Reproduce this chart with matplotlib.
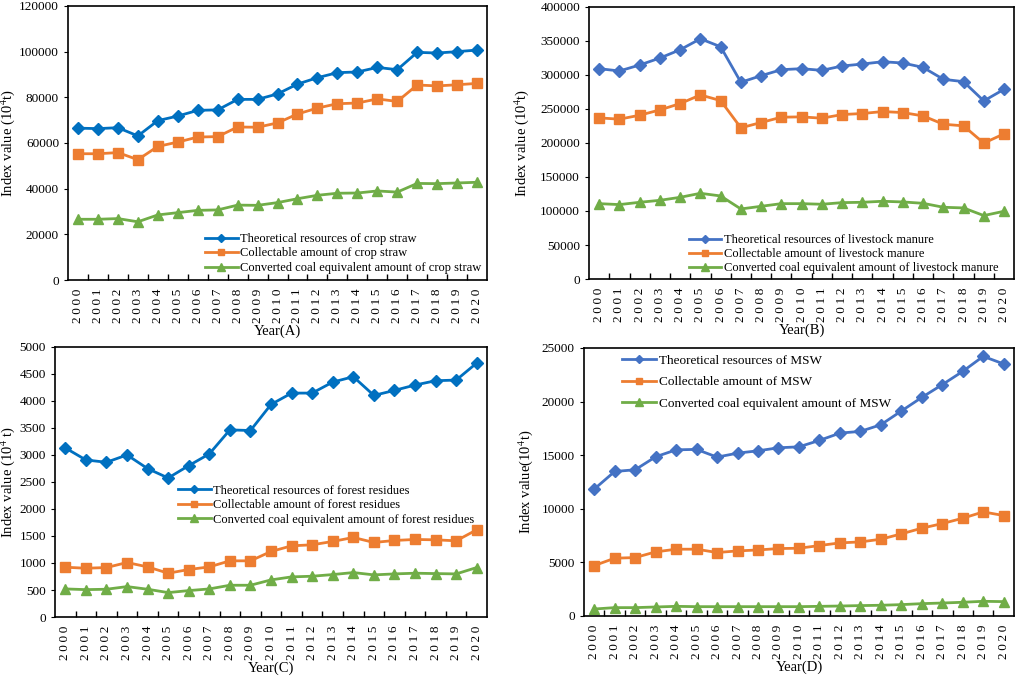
import matplotlib
import matplotlib.pyplot as plt

matplotlib.use("Agg")

plt.rcParams["font.family"] = ["Liberation Serif", "DejaVu Serif"]
plt.rcParams["mathtext.fontset"] = "stix"

years = list(range(2000, 2021))

# (A) crop straw
straw_theory = [66500, 66300, 66700, 63100, 69800, 71800, 74300, 74500, 79100, 79100, 81500,
                85800, 88600, 90800, 91100, 93100, 92100, 99700, 99400, 100000, 100700]
straw_collect = [55300, 55300, 55800, 52700, 58500, 60400, 62600, 62800, 67000, 66900, 68800,
                 72700, 75300, 77200, 77500, 79300, 78200, 85400, 85000, 85500, 86100]
straw_coal = [26600, 26600, 26900, 25500, 28500, 29500, 30500, 30700, 32800, 32700, 33900,
              35600, 37100, 38000, 38100, 39000, 38500, 42300, 42200, 42500, 42800]

# (B) livestock manure
manure_theory = [309100, 305700, 314500, 324700, 336900, 353000, 341300, 289100, 298800, 307600, 309100,
                 306600, 313000, 315900, 319300, 317400, 311000, 293500, 290000, 261700, 278800]
manure_collect = [236800, 234900, 240700, 248500, 257800, 270500, 262200, 222200, 230000, 237800, 238300,
                  236300, 241700, 243200, 246100, 244600, 239700, 227500, 225100, 199700, 213400]
manure_coal = [110800, 109400, 112800, 115700, 120100, 126000, 122100, 103000, 106900, 110800, 110800,
               109900, 112300, 112800, 114300, 113300, 111300, 105500, 104500, 93300, 99600]

# (C) forest residues
forest_theory = [3131, 2908, 2865, 3001, 2748, 2574, 2803, 3020, 3465, 3453, 3936,
                 4146, 4146, 4350, 4449, 4103, 4196, 4295, 4375, 4387, 4703]
forest_collect = [922, 903, 916, 1009, 928, 811, 879, 928, 1040, 1040, 1213,
                  1318, 1337, 1399, 1473, 1380, 1417, 1436, 1429, 1411, 1615]
forest_coal = [520, 507, 514, 563, 514, 452, 489, 520, 588, 588, 687,
               743, 755, 786, 823, 780, 798, 811, 804, 798, 916]

# (D) MSW
msw_theory = [11830, 13480, 13640, 14850, 15500, 15540, 14820, 15190, 15410, 15690, 15780,
              16380, 17060, 17220, 17840, 19120, 20390, 21580, 22820, 24220, 23510]
msw_collect = [4700, 5390, 5450, 5980, 6230, 6230, 5920, 6070, 6160, 6290, 6320,
               6570, 6820, 6910, 7160, 7660, 8190, 8620, 9120, 9710, 9370]
msw_coal = [650, 780, 780, 840, 900, 870, 870, 870, 870, 870, 870,
            900, 930, 970, 1000, 1060, 1150, 1210, 1280, 1370, 1340]

ORANGE = "#ED7D31"
GREEN = "#70AD47"

fig = plt.figure(figsize=(10.17, 6.79), dpi=100)


def draw_panel(rect, series, labels, blue, ymax, ystep, ylabel, ylabel_x, xlabel,
               leg_anchor, leg_size, leg_spacing):
    ax = fig.add_axes(rect)
    x = [i + 0.5 for i in range(len(years))]
    styles = [(blue, "D", 6.5), (ORANGE, "s", 7), (GREEN, "^", 7.5)]
    for vals, lab, (c, m, ms) in zip(series, labels, styles):
        ax.plot(x, vals, color=c, marker=m, markersize=ms, linewidth=2, label=lab)
    ax.set_xlim(0, len(years))
    ax.set_ylim(0, ymax)
    ax.set_yticks(range(0, ymax + 1, ystep))
    ax.set_xticks(range(1, len(years)))
    ax.set_xticklabels([])
    ax.set_xticks(x, minor=True)
    ax.set_xticklabels(["\u2009".join(str(y)) for y in years], minor=True, rotation=90, fontsize=9.5)
    ax.tick_params(axis="x", which="major", direction="in", length=4, width=1)
    ax.tick_params(axis="x", which="minor", length=0, pad=6)
    ax.tick_params(axis="y", direction="out", length=3, labelsize=9.5)
    for s in ax.spines.values():
        s.set_linewidth(1.2)
    ax.set_ylabel(ylabel, fontsize=10.5)
    ax.yaxis.set_label_coords(ylabel_x, 0.5)
    ax.set_xlabel(xlabel, fontsize=10.5, labelpad=1)
    ax.legend(loc="upper left", bbox_to_anchor=leg_anchor, frameon=False, fontsize=leg_size,
              borderpad=0, borderaxespad=0, handlelength=2.6, handletextpad=0.2,
              labelspacing=leg_spacing, markerscale=0.7)
    return ax


draw_panel([0.0669, 0.5876, 0.412, 0.4036],
           [straw_theory, straw_collect, straw_coal],
           ["Theoretical resources of crop straw", "Collectable amount of crop straw",
            "Converted coal equivalent amount of crop straw"],
           "#0070C0", 120000, 20000, "Index value (10$^4$t)", -0.122, "Year(A)", (0.327, 0.172), 9, 0.2)

draw_panel([0.5792, 0.589, 0.418, 0.401],
           [manure_theory, manure_collect, manure_coal],
           ["Theoretical resources of livestock manure", "Collectable amount of livestock manure",
            "Converted coal equivalent amount of livestock manure"],
           "#4472C4", 400000, 50000, "Index value (10$^4$t)", -0.136, "Year(B)", (0.235, 0.165), 9, 0.15)

draw_panel([0.0541, 0.0913, 0.4248, 0.3977],
           [forest_theory, forest_collect, forest_coal],
           ["Theoretical resources of forest residues", "Collectable amount of forest residues",
            "Converted coal equivalent amount of forest residues"],
           "#0070C0", 5000, 500, "Index value (10$^4$ t)", -0.088, "Year(C)", (0.285, 0.49), 9, 0.2)

draw_panel([0.5742, 0.0928, 0.4228, 0.3947],
           [msw_theory, msw_collect, msw_coal],
           ["Theoretical resources of MSW", "Collectable amount of MSW",
            "Converted coal equivalent amount of MSW"],
           "#4472C4", 25000, 5000, "Index value(10$^4$t)", -0.114, "Year(D)", (0.088, 0.975), 9.5, 0.7)

fig.savefig("out.png", dpi=100)
